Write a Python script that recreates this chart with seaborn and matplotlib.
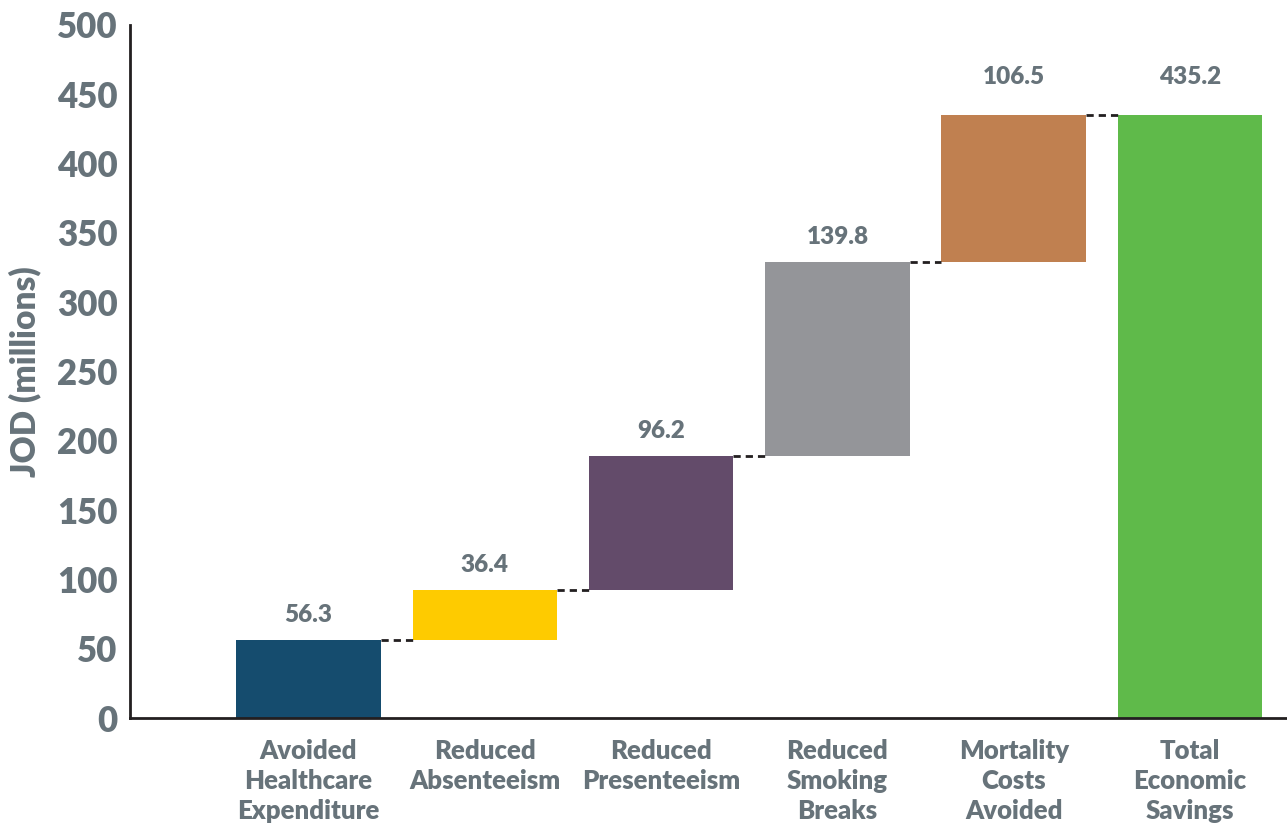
import numpy as np
import pandas as pd
import matplotlib
matplotlib.use("Agg")
import matplotlib.pyplot as plt
import seaborn as sns

categories = ["Avoided\nHealthcare\nExpenditure", "Reduced\nAbsenteeism", "Reduced\nPresenteeism",
              "Reduced\nSmoking\nBreaks", "Mortality\nCosts\nAvoided", "Total\nEconomic\nSavings"]
steps = [56.3, 36.4, 96.2, 139.8, 106.5]
total = 435.2
colors = ["#154c6e", "#fecb00", "#634b6a", "#949599", "#c08050", "#5fba4a"]
yticks = [0, 50, 100, 150, 200, 250, 300, 350, 400, 450, 500]

grey = "#67737a"
dark = "#231f20"

tops = np.cumsum(steps)
bases = list(np.concatenate([[0], tops[:-1]])) + [0]
heights = steps + [total]
df = pd.DataFrame({"cat": categories, "height": heights, "base": bases})

sns.set_style("white")
plt.rcParams["font.family"] = ["Lato", "DejaVu Sans"]
plt.rcParams["font.weight"] = "bold"

fig = plt.figure(figsize=(12.87, 8.24), dpi=100)
ax = fig.add_axes([0.101, 0.1286, 0.899, 0.8411])

w = 0.82
sns.barplot(data=df, x="cat", y="height", bottom=df["base"].values, width=w,
            color=colors[0], saturation=1, ax=ax)
for p, c in zip(ax.patches, colors):
    p.set_facecolor(c)
    p.set_edgecolor("none")

# connector lines
levels = list(tops)
for i, lev in enumerate(levels):
    ax.plot([i + w / 2, i + 1 - w / 2], [lev, lev], ls=(0, (2.6, 1.8)), color=dark, lw=2)

# value labels
for i, (b, h) in enumerate(zip(bases, heights)):
    off = 27 if i >= 4 else 18
    ax.text(i, b + h + off, f"{h:.1f}", ha="center", va="center",
            fontsize=17.5, fontweight="heavy", color=grey)

ax.set_xlim(-1.013, 5.55)
ax.set_ylim(0, 500)
ax.set_yticks(yticks)
ax.set_yticklabels([str(t) for t in yticks])
ax.set_xlabel("")
ax.set_ylabel("JOD (millions)", fontsize=24, fontweight="heavy", color=grey, labelpad=11)

ax.tick_params(axis="y", direction="in", length=20, width=1.8, color=dark,
               labelsize=25, labelcolor=grey, pad=9)
ax.tick_params(axis="x", length=0, labelsize=18.5, labelcolor=grey, pad=15)
for lab in ax.get_xticklabels() + ax.get_yticklabels():
    lab.set_fontweight("heavy")
for lab in ax.get_xticklabels():
    lab.set_linespacing(1.3)

for s in ["top", "right"]:
    ax.spines[s].set_visible(False)
for s in ["left", "bottom"]:
    ax.spines[s].set_color(dark)
    ax.spines[s].set_linewidth(2)

fig.savefig("out.png", dpi=100)
